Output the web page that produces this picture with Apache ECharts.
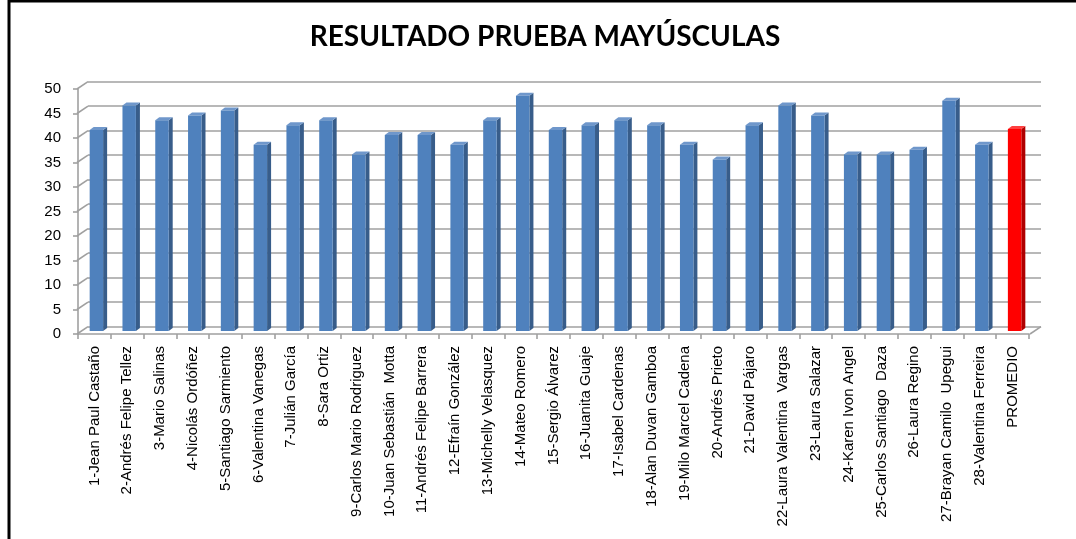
<!DOCTYPE html>
<html>
<head>
<meta charset="utf-8">
<script src="https://cdn.jsdelivr.net/npm/echarts@6/dist/echarts.min.js"></script>
<style>
html,body{margin:0;padding:0;background:#fff;}
#chart{width:1076px;height:539px;}
</style>
</head>
<body>
<div id="chart"></div>
<script>
const titleText = 'RESULTADO PRUEBA MAYÚSCULAS';
const categories = [
  '1-Jean Paul Castaño', '2-Andrés Felipe Tellez', '3-Mario Salinas', '4-Nicolás Ordóñez',
  '5-Santiago Sarmiento', '6-Valentina Vanegas', '7-Julián García', '8-Sara Ortiz',
  '9-Carlos Mario Rodriguez', '10-Juan Sebastián  Motta', '11-Andrés Felipe Barrera',
  '12-Efraín González', '13-Michelly Velasquez', '14-Mateo Romero', '15-Sergio Álvarez',
  '16-Juanita Guaje', '17-Isabel Cardenas', '18-Alan Duvan Gamboa', '19-Milo Marcel Cadena',
  '20-Andrés Prieto', '21-David Pájaro', '22-Laura Valentina  Vargas', '23-Laura Salazar',
  '24-Karen Ivon Angel', '25-Carlos Santiago  Daza', '26-Laura Regino',
  '27-Brayan Camilo  Upegui', '28-Valentina Ferreira', 'PROMEDIO'
];
const scores = [41, 46, 43, 44, 45, 38, 42, 43, 36, 40, 40, 38, 43, 48, 41, 42, 43, 42, 38, 35, 42, 46, 44, 36, 36, 37, 47, 38];
const promedio = [41.2];
const yTicks = [0, 5, 10, 15, 20, 25, 30, 35, 40, 45, 50];

const values = scores.concat(promedio);
const blue = { front: '#4F81BD', side: '#385D8A', top: '#6F97CB' };
const red = { front: '#FF0000', side: '#B00000', top: '#FF4040' };
const gridGray = '#A0A0A0';

const chart = echarts.init(document.getElementById('chart'), null, { renderer: 'canvas' });

function renderBar(params, api) {
  const i = api.value(0), v = api.value(1);
  const top = api.coord([i, v]);
  const bot = api.coord([i, 0]);
  const bw = api.size([1, 0])[0] * 0.41;
  const sx = 2, sy = -3, d = 4, dz = -3;
  const x0 = top[0] - bw / 2 + sx, x1 = x0 + bw;
  const yt = top[1] + sy, yb = bot[1] + sy;
  const c = (i === values.length - 1) ? red : blue;
  return {
    type: 'group',
    children: [
      { type: 'polygon', shape: { points: [[x1, yt], [x1 + d, yt + dz], [x1 + d, yb + dz], [x1, yb]] }, style: { fill: c.side } },
      { type: 'polygon', shape: { points: [[x0, yt], [x0 + d, yt + dz], [x1 + d, yt + dz], [x1, yt]] }, style: { fill: c.top } },
      { type: 'rect', shape: { x: x0, y: yt, width: bw, height: yb - yt }, style: { fill: c.front } }
    ]
  };
}

function renderWall(params, api) {
  const p = api.coord([api.value(0), api.value(1)]);
  return {
    type: 'line',
    shape: { x1: p[0] - 11, y1: p[1] + 7.3, x2: p[0], y2: p[1] },
    style: { stroke: gridGray, lineWidth: 1.6 }
  };
}

const option = {
  backgroundColor: '#ffffff',
  animation: false,
  graphic: [
    { type: 'line', shape: { x1: 9, y1: 0, x2: 9, y2: 539 }, style: { stroke: '#000', lineWidth: 3 } },
    { type: 'line', shape: { x1: 8, y1: 1, x2: 1076, y2: 1 }, style: { stroke: '#000', lineWidth: 3 } },
    {
      type: 'text', x: 545, y: 37,
      style: {
        text: titleText, x: 0, y: 0, align: 'center', verticalAlign: 'middle',
        font: 'bold 28px Lato', fill: '#000'
      }
    }
  ],
  grid: [
    { left: 88, right: 35, top: 81.7, bottom: 212.3 },
    { left: 78, right: 47, top: 89, bottom: 205 }
  ],
  xAxis: [
    { gridIndex: 0, type: 'value', min: 0, max: 29, show: false },
    {
      gridIndex: 1, type: 'category', data: categories, boundaryGap: true,
      axisLine: { show: true, lineStyle: { color: gridGray, width: 1.6 } },
      axisTick: { show: true, interval: 0, length: 5, lineStyle: { color: gridGray, width: 1.6 } },
      axisLabel: {
        interval: 0, rotate: 90, margin: 12, color: '#000',
        fontFamily: 'Liberation Sans', fontSize: 15
      },
      splitLine: { show: false }
    }
  ],
  yAxis: [
    {
      gridIndex: 0, type: 'value', min: 0, max: 50, interval: 5,
      axisLine: { show: false }, axisTick: { show: false }, axisLabel: { show: false },
      splitLine: { show: true, lineStyle: { color: gridGray, width: 1.6 } }
    },
    {
      gridIndex: 1, type: 'value', min: 0, max: 50, interval: 5,
      axisLine: { show: true, lineStyle: { color: gridGray, width: 1.6 } },
      axisTick: { show: true, length: 5, lineStyle: { color: gridGray, width: 1.6 } },
      axisLabel: { margin: 17, color: '#000', fontFamily: 'Liberation Sans', fontSize: 15 },
      splitLine: { show: false }
    }
  ],
  series: [
    {
      type: 'custom', name: 'wall', xAxisIndex: 0, yAxisIndex: 0, z: 1, silent: true,
      renderItem: renderWall,
      data: yTicks.map(v => [0, v])
    },
    {
      type: 'custom', name: 'floorEdge', xAxisIndex: 0, yAxisIndex: 0, z: 1, silent: true,
      renderItem: renderWall,
      data: [[29, 0]]
    },
    {
      type: 'custom', name: 'Resultado', xAxisIndex: 1, yAxisIndex: 1, z: 5,
      renderItem: renderBar,
      data: values.map((v, i) => [i, v])
    }
  ]
};
chart.setOption(option);
</script>
</body>
</html>
